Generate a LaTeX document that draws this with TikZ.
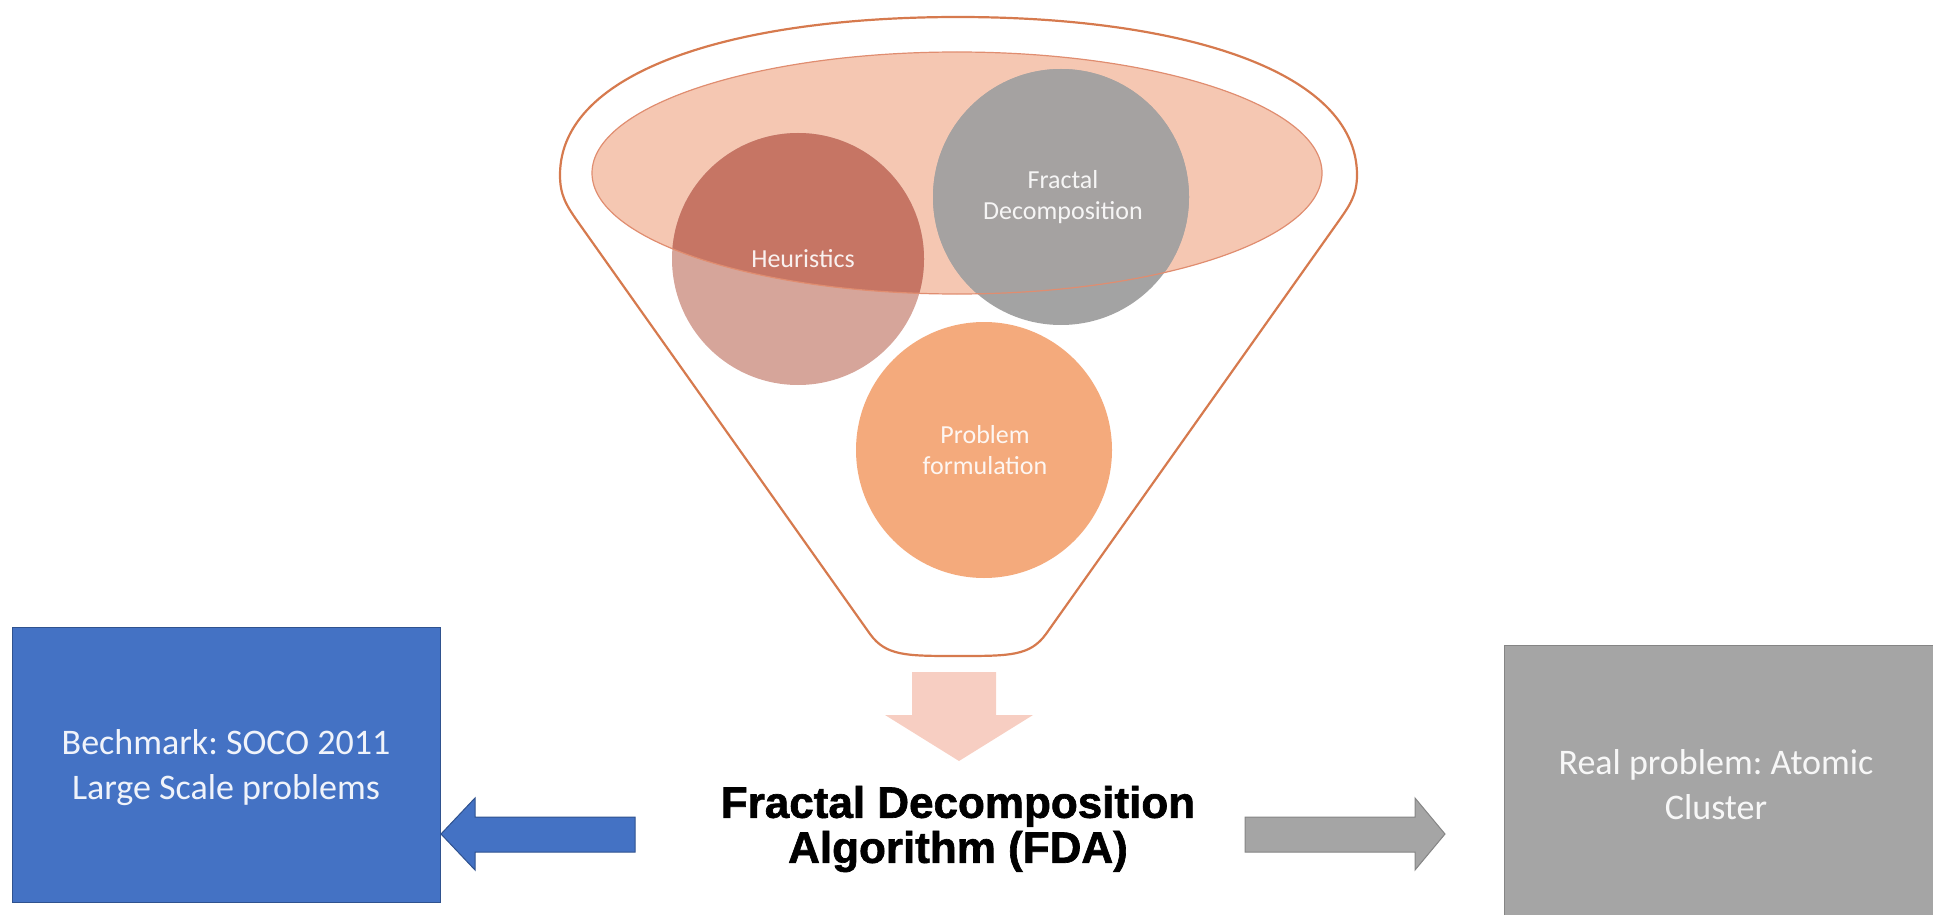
\documentclass[tikz,border=0pt]{standalone}
\usepackage{fontspec}
\setmainfont{Carlito}
\newfontfamily\fdafont{Liberation Sans}[BoldFeatures={FakeBold=1.5}]
\usetikzlibrary{shapes.geometric}
\frenchspacing
\definecolor{ellfill}{HTML}{F5C7B2}
\definecolor{elldraw}{HTML}{E08D70}
\definecolor{heurout}{HTML}{D6A59A}
\definecolor{heurin}{HTML}{C67564}
\definecolor{fdgray}{HTML}{A3A3A3}
\definecolor{fdin}{HTML}{A5A2A1}
\definecolor{pfor}{HTML}{F4AA7C}
\definecolor{funnelc}{HTML}{D67A4E}
\definecolor{dnarrow}{HTML}{F7CEC2}
\definecolor{blueb}{HTML}{4472C4}
\definecolor{blueborder}{HTML}{2F528F}
\definecolor{grayb}{HTML}{A5A5A5}
\definecolor{grayborder}{HTML}{858585}
\tikzset{
  circshape/.style={circle, inner sep=0pt, minimum size=#1},
  circtext/.style={align=center, text=white, text opacity=0.9, inner sep=0pt,
    font=\fontsize{26}{31}\selectfont},
  boxshape/.style={rectangle, inner sep=0pt, anchor=north west, line width=1pt},
  boxtext/.style={align=center, text=white, text opacity=0.92, inner sep=0pt,
    font=\fontsize{36}{45}\selectfont},
  arrowshape/.style={line width=1pt, line join=miter},
}
\begin{document}
\begin{tikzpicture}[x=1pt,y=-1pt]
\useasboundingbox (0,0) rectangle (1933,915);
% funnel outline
\draw[funnelc, line width=2.2pt, line join=round]
  (958,17) .. controls (1180,17) and (1357,70) .. (1357,175)
  .. controls (1357,195) and (1350,205) .. (1338,222)
  -- (1046,634) .. controls (1030,656) and (1010,656) .. (958,656)
  .. controls (906,656) and (886,656) .. (870,634)
  -- (578,222) .. controls (566,205) and (560,195) .. (560,175)
  .. controls (560,70) and (736,17) .. cycle;
% top ellipse
\node[ellipse, fill=ellfill, inner sep=0pt, minimum width=730, minimum height=242] (ell) at (957,173) {};
% circles
\node[circshape=252, fill=heurout] (heur) at (798,259) {};
\node[circshape=256, fill=fdgray] (fd) at (1061,197) {};
\begin{scope}
  \clip (957,173) ellipse [x radius=365, y radius=121];
  \fill[heurin] (heur.center) circle [radius=126];
  \fill[fdin] (fd.center) circle [radius=128];
\end{scope}
\draw[elldraw, line width=1.2pt] (957,173) ellipse [x radius=365, y radius=121];
\node[circshape=256, fill=pfor] (pf) at (984,450) {};
% circle texts
\node[circtext] (heurtext) at (803,259) {Heuristics};
\node[circtext] (fdtext) at (1063,197) {Fractal\\Decomposition};
\node[circtext] (pftext) at (985,450) {Problem\\formulation};
% down arrow
\fill[dnarrow] (912,672) -- (996,672) -- (996,715) -- (1033,715) -- (959,761) -- (885,715) -- (912,715) -- cycle;
% FDA text
\node[align=center, inner sep=0pt, font=\fdafont\bfseries\fontsize{44}{45}\selectfont] (fda) at (958,829) {Fractal Decomposition\\Algorithm (FDA)};
% boxes
\node[boxshape, fill=blueb, draw=blueborder, minimum width=428, minimum height=275] (bench) at (12,627) {};
\node[boxtext] (benchtext) at (226,768) {Bechmark: SOCO 2011\\Large Scale problems};
\node[boxshape, fill=grayb, draw=grayborder, minimum width=440, minimum height=280] (real) at (1504,645) {};
\node[boxtext] (realtext) at (1716,785) {Real problem: Atomic\\Cluster};
% side arrows
\fill[blueb, draw=blueborder, arrowshape] (635,817) -- (475,817) -- (475,798) -- (bench.east |- 0,834) -- (475,870) -- (475,852) -- (635,852) -- cycle;
\fill[grayb, draw=grayborder, arrowshape] (1245,817) -- (1415,817) -- (1415,798) -- (1445,834) -- (1415,870) -- (1415,852) -- (1245,852) -- cycle;
\end{tikzpicture}
\end{document}
